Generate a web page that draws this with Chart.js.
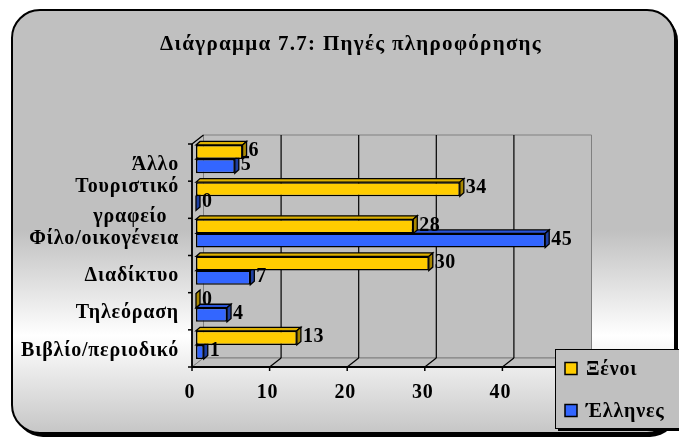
<!DOCTYPE html>
<html>
<head>
<meta charset="utf-8">
<script src="https://cdn.jsdelivr.net/npm/chart.js@4/dist/chart.umd.min.js"></script>
<style>
  html, body { margin: 0; padding: 0; background: #fff; }
  canvas { display: block; }
</style>
</head>
<body>
<canvas id="chart" width="679" height="441"></canvas>
<script>
// ---- data ----
const titleText = 'Διάγραμμα 7.7: Πηγές πληροφόρησης';
const categories = ['Άλλο', ['Τουριστικό', 'γραφείο\u00a0\u00a0'], 'Φίλο/οικογένεια', 'Διαδίκτυο', 'Τηλεόραση', 'Βιβλίο/περιοδικό'];
const seriesNames = ['Ξένοι', 'Έλληνες'];
const foreigners = [6, 34, 28, 30, 0, 13];
const greeks = [5, 0, 45, 7, 4, 1];
const xTicks = [0, 10, 20, 30, 40, 50];

// ---- look ----
const SERIF = '"Liberation Serif", "Times New Roman", serif';
const WALL = { x: 11.5, y: -9 };      // depth of the 3-D box
const SHIFT = { x: 4, y: -3.5 };      // bars stand slightly behind the front plane
const BAR = { x: 4, y: -3.5 };        // depth of each bar
const frontColors = ['#FFCC00', '#3366FF'];
const topColors = ['#DDB000', '#2A55D8'];
const sideColors = ['#A88700', '#1E3FA0'];

function roundRect(ctx, x, y, w, h, r) {
  ctx.beginPath();
  ctx.moveTo(x + r, y);
  ctx.arcTo(x + w, y, x + w, y + h, r);
  ctx.arcTo(x + w, y + h, x, y + h, r);
  ctx.arcTo(x, y + h, x, y, r);
  ctx.arcTo(x, y, x + w, y, r);
  ctx.closePath();
}

function poly(ctx, pts, fill, stroke, lw) {
  ctx.beginPath();
  ctx.moveTo(pts[0][0], pts[0][1]);
  for (let i = 1; i < pts.length; i++) ctx.lineTo(pts[i][0], pts[i][1]);
  ctx.closePath();
  if (fill) { ctx.fillStyle = fill; ctx.fill(); }
  if (stroke) { ctx.strokeStyle = stroke; ctx.lineWidth = lw || 1; ctx.stroke(); }
}

function line(ctx, x1, y1, x2, y2, color, lw) {
  ctx.beginPath();
  ctx.moveTo(x1, y1);
  ctx.lineTo(x2, y2);
  ctx.strokeStyle = color;
  ctx.lineWidth = lw;
  ctx.stroke();
}

// Frame, 3-D walls, grid and axes behind the bars; legend and title on top.
const scene = {
  id: 'scene',
  beforeLayout(chart) {
    chart.ctx.letterSpacing = '0.8px';
  },
  beforeDraw(chart) {
    const { ctx, chartArea: a, scales: { x, y } } = chart;
    ctx.save();
    ctx.fillStyle = '#fff';
    ctx.fillRect(0, 0, chart.width, chart.height);

    // rounded outer frame with drop shadow and gradient fill
    ctx.fillStyle = '#000';
    roundRect(ctx, 15, 13, 663, 424, 28);
    ctx.fill();
    const g = ctx.createLinearGradient(0, 10, 0, 433);
    g.addColorStop(0, '#c0c0c0');
    g.addColorStop(0.52, '#c0c0c0');
    g.addColorStop(0.77, '#ffffff');
    g.addColorStop(1, '#c6c6c6');
    roundRect(ctx, 12, 10, 663, 423, 28);
    ctx.fillStyle = g;
    ctx.fill();
    ctx.lineWidth = 2;
    ctx.strokeStyle = '#000';
    ctx.stroke();

    const L = a.left, R = a.right, T = a.top, B = a.bottom, dx = WALL.x, dy = WALL.y;
    // back wall, side wall, floor
    poly(ctx, [[L + dx, T + dy], [R + dx, T + dy], [R + dx, B + dy], [L + dx, B + dy]], '#c0c0c0', '#808080', 1);
    poly(ctx, [[L, T], [L + dx, T + dy], [L + dx, B + dy], [L, B]], '#c0c0c0', '#808080', 1);
    poly(ctx, [[L, B], [L + dx, B + dy], [R + dx, B + dy], [R, B]], '#c0c0c0', '#808080', 1);

    // vertical grid on the back wall and its run across the floor
    x.ticks.forEach(t => {
      const px = x.getPixelForValue(t.value);
      if (t.value > x.min && t.value < x.max) {
        line(ctx, px + dx, T + dy, px + dx, B + dy, '#000', 1.2);
      }
      if (t.value > x.min) line(ctx, px, B, px + dx, B + dy, '#000', 1.2);
      line(ctx, px, B, px, B + 4, '#000', 1.5);
    });

    // category axis ticks on the boundaries
    const n = chart.data.labels.length;
    for (let i = 0; i <= n; i++) {
      const py = T + (B - T) * i / n;
      line(ctx, L - 4, py, L, py, '#000', 1.5);
    }
    line(ctx, L, T, L + dx, T + dy, '#000', 1.2);
    line(ctx, L, T, L, B, '#000', 1.8);
    line(ctx, L, B, R, B, '#000', 1.8);
    ctx.restore();
    ctx.letterSpacing = '0.8px';
  },
  beforeDatasetsDraw(chart) {
    chart.ctx.save();
    chart.ctx.translate(SHIFT.x, SHIFT.y);
  },
  afterDatasetDraw(chart, args) {
    const ctx = chart.ctx;
    const i = args.index;
    args.meta.data.forEach(el => {
      const p = el.getProps(['x', 'y', 'base', 'height'], true);
      const l = Math.min(p.x, p.base), r = Math.max(p.x, p.base);
      const t = p.y - p.height / 2, b = p.y + p.height / 2;
      poly(ctx, [[l, t], [l + BAR.x, t + BAR.y], [r + BAR.x, t + BAR.y], [r, t]], topColors[i], '#000', 1.3);
      poly(ctx, [[r, t], [r + BAR.x, t + BAR.y], [r + BAR.x, b + BAR.y], [r, b]], sideColors[i], '#000', 1.3);
    });
  },
  afterDatasetsDraw(chart) {
    const ctx = chart.ctx;
    ctx.font = 'bold 20px ' + SERIF;
    ctx.letterSpacing = '0.5px';
    ctx.fillStyle = '#000';
    ctx.textAlign = 'left';
    ctx.textBaseline = 'middle';
    chart.data.datasets.forEach((ds, i) => {
      chart.getDatasetMeta(i).data.forEach((el, j) => {
        const p = el.getProps(['x', 'y', 'base'], true);
        ctx.fillText(String(ds.data[j]), Math.max(p.x, p.base) + BAR.x + 2, p.y - 1);
      });
    });
    ctx.restore();
  },
  afterDraw(chart) {
    const ctx = chart.ctx;
    ctx.save();
    // title
    ctx.font = 'bold 21px ' + SERIF;
    ctx.letterSpacing = '1.3px';
    ctx.fillStyle = '#000';
    ctx.textAlign = 'center';
    ctx.textBaseline = 'middle';
    ctx.fillText(titleText, 351, 45);

    // legend box with shadow
    const lx = 555, ly = 349, lw = 135, lh = 79;
    ctx.fillStyle = '#000';
    ctx.fillRect(lx + 3, ly + 3, lw, lh);
    ctx.fillStyle = '#c0c0c0';
    ctx.fillRect(lx, ly, lw, lh);
    ctx.strokeStyle = '#000';
    ctx.lineWidth = 1;
    ctx.strokeRect(lx + 0.5, ly + 0.5, lw, lh);
    ctx.font = 'bold 20px ' + SERIF;
    ctx.letterSpacing = '0.8px';
    ctx.textAlign = 'left';
    chart.data.datasets.forEach((ds, i) => {
      const cy = 368.5 + i * 42;
      ctx.fillStyle = ds.backgroundColor;
      ctx.fillRect(565, cy - 6, 12, 12);
      ctx.lineWidth = 1.5;
      ctx.strokeRect(565, cy - 6, 12, 12);
      ctx.fillStyle = '#000';
      ctx.fillText(ds.label, 586, cy + 1);
    });
    ctx.restore();
  }
};

new Chart(document.getElementById('chart'), {
  type: 'bar',
  data: {
    labels: categories,
    datasets: [
      { label: seriesNames[0], data: foreigners, backgroundColor: frontColors[0] },
      { label: seriesNames[1], data: greeks, backgroundColor: frontColors[1] }
    ]
  },
  options: {
    indexAxis: 'y',
    responsive: false,
    animation: false,
    devicePixelRatio: 1,
    layout: { padding: { left: 0, top: 144, right: 99, bottom: 24 } },
    datasets: {
      bar: {
        borderColor: '#000',
        borderWidth: 1.5,
        borderSkipped: false,
        categoryPercentage: 0.76,
        barPercentage: 1,
        clip: false
      }
    },
    plugins: { legend: { display: false }, title: { display: false }, tooltip: { enabled: false } },
    scales: {
      x: {
        min: xTicks[0],
        max: xTicks[xTicks.length - 1],
        afterFit(s) { s.height = 50; },
        grid: { display: false, drawTicks: false },
        border: { display: false },
        ticks: {
          stepSize: xTicks[1] - xTicks[0],
          padding: 14,
          labelOffset: -2,
          color: '#000',
          font: { family: SERIF, size: 20, weight: 'bold' }
        }
      },
      y: {
        afterFit(s) { s.width = 192; },
        grid: { display: false, drawTicks: false },
        border: { display: false },
        ticks: {
          padding: 13,
          labelOffset: 2,
          color: '#000',
          autoSkip: false,
          font: { family: SERIF, size: 20, weight: 'bold', lineHeight: 1.5 }
        }
      }
    }
  },
  plugins: [scene]
});
</script>
</body>
</html>
